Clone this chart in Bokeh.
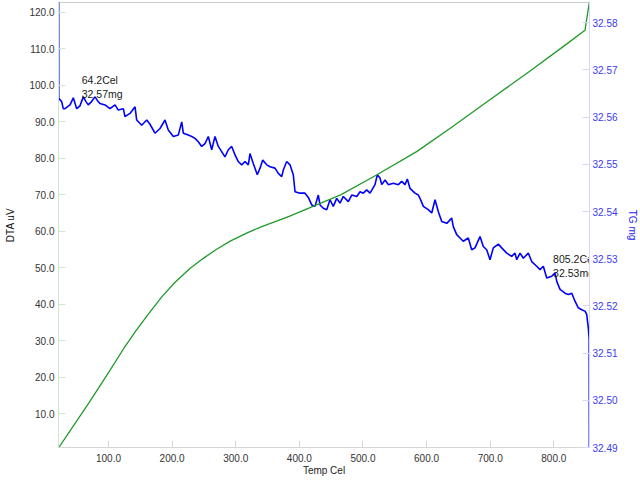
from bokeh.plotting import figure
from bokeh.models import Range1d, LinearAxis, FixedTicker, NumeralTickFormatter, ColumnDataSource
from bokeh.core.properties import value
from bokeh.embed import file_html
from bokeh.resources import INLINE

# ---- data ----
dta_temp = [21.6, 70, 100, 124, 143, 162, 185, 205.5, 228, 249, 270, 292, 318, 341, 384, 428, 465,
            522, 585, 640, 700, 760, 820, 849, 856.5]
dta_uv = [0.7, 13.2, 21.3, 27.9, 32.7, 37.2, 42.3, 46.2, 49.8, 52.6, 55.1, 57.4, 59.6, 61.3, 64.1,
          67.3, 70.0, 75.5, 81.9, 88.6, 96.1, 103.6, 111.3, 115.1, 123.5]

tg_temp = [21.6, 21.8, 26.4, 28.9, 31.6, 39.5, 44.7, 50.0, 55.2, 60.4,
           64.6, 68.2, 73.3, 78.8, 82.7, 86.6, 94.5, 102.4, 110.2, 115.4,
           123.3, 125.9, 133.8, 141.7, 144.3, 152.2, 160.1, 165.2, 173.1, 181.0,
           188.8, 194.0, 201.9, 209.7, 215.1, 217.6, 225.4, 230.8, 236.0, 241.2,
           246.5, 251.7, 256.9, 262.2, 267.4, 272.6, 277.9, 283.1, 288.3, 293.7,
           298.9, 304.0, 309.4, 314.6, 319.8, 322.4, 327.6, 333.9, 338.2, 342.4,
           348.7, 353.9, 361.7, 366.9, 372.3, 374.8, 380.1, 385.3, 390.5, 393.2,
           401.0, 408.9, 414.1, 419.5, 424.6, 429.8, 432.5, 437.7, 443.0, 448.2,
           453.4, 458.7, 463.9, 469.1, 477.0, 482.3, 490.2, 495.4, 500.5, 505.9,
           511.1, 518.9, 522.6, 526.8, 529.5, 534.7, 539.9, 547.7, 555.6, 560.9,
           566.1, 569.7, 574.0, 581.8, 587.0, 589.7, 594.9, 602.7, 608.1, 613.3,
           618.4, 623.8, 631.7, 639.5, 642.0, 647.4, 652.6, 657.7, 665.6, 670.9,
           676.1, 684.0, 689.2, 694.5, 699.7, 704.9, 712.8, 718.1, 726.0, 733.8,
           739.0, 741.7, 746.9, 752.1, 759.9, 765.3, 773.1, 778.3, 783.5, 788.9,
           796.7, 801.9, 804.6, 809.8, 817.6, 822.8, 828.2, 833.3, 838.5, 843.9,
           849.0, 851.7, 854.2, 855.6, 855.9]
tg_mg = [32.595, 32.5640, 32.5633, 32.5618, 32.5618, 32.5626, 32.5641, 32.5618, 32.5624, 32.5643,
         32.5633, 32.5626, 32.5633, 32.5643, 32.5635, 32.5629, 32.5626, 32.5618, 32.5626, 32.5615,
         32.5618, 32.5601, 32.5608, 32.5622, 32.5594, 32.5583, 32.5594, 32.5585, 32.5566, 32.5576,
         32.5594, 32.5573, 32.5559, 32.5562, 32.5590, 32.5566, 32.5562, 32.5559, 32.5555, 32.5548,
         32.5538, 32.5544, 32.5559, 32.5531, 32.5559, 32.5538, 32.5527, 32.5516, 32.5531, 32.5538,
         32.5520, 32.5506, 32.5499, 32.5506, 32.5499, 32.5523, 32.5502, 32.5478, 32.5492, 32.5509,
         32.5499, 32.5495, 32.5492, 32.5481, 32.5474, 32.5488, 32.5506, 32.5499, 32.5478, 32.5442,
         32.5439, 32.5439, 32.5430, 32.5414, 32.5411, 32.5435, 32.5414, 32.5407, 32.5404, 32.5425,
         32.5411, 32.5428, 32.5418, 32.5432, 32.5421, 32.5435, 32.5432, 32.5442, 32.5439, 32.5446,
         32.5439, 32.5457, 32.5478, 32.5471, 32.5457, 32.5467, 32.5457, 32.5460, 32.5457, 32.5464,
         32.5457, 32.5469, 32.5449, 32.5439, 32.5435, 32.5428, 32.5411, 32.5404, 32.5397, 32.5425,
         32.5400, 32.5379, 32.5375, 32.5386, 32.5368, 32.5351, 32.5344, 32.5337, 32.5344, 32.5319,
         32.5323, 32.5347, 32.5326, 32.5319, 32.5298, 32.5323, 32.5331, 32.5323, 32.5312, 32.5305,
         32.5312, 32.5298, 32.5312, 32.5301, 32.5312, 32.5294, 32.5284, 32.5277, 32.5284, 32.5259,
         32.5263, 32.5270, 32.5252, 32.5235, 32.5227, 32.5224, 32.5227, 32.5210, 32.5196, 32.5192,
         32.5189, 32.5182, 32.5154, 32.5130, 32.4880]

# annotation: marked temperature, TG at that point on the curve, and the printed text
ann_temp = [64.2, 805.2]
ann_point_mg = [32.5634, 32.5255]
ann_text = ["64.2Cel\n32.57mg", "805.2Cel\n32.53mg"]

temp_ticks = [100, 200, 300, 400, 500, 600, 700, 800]
dta_ticks = [10, 20, 30, 40, 50, 60, 70, 80, 90, 100, 110, 120]
tg_ticks = [32.49, 32.50, 32.51, 32.52, 32.53, 32.54, 32.55, 32.56, 32.57, 32.58]

# ---- figure ----
p = figure(width=640, height=482, output_backend="svg", toolbar_location=None,
           x_range=Range1d(21.4, 856.1), y_range=Range1d(0.77, 122.7),
           min_border_left=58, min_border_right=51, min_border_top=2, min_border_bottom=35,
           background_fill_color="white", border_fill_color="white")
p.extra_y_ranges = {"tg": Range1d(32.49, 32.5843)}
p.xgrid.visible = False
p.ygrid.visible = False
p.outline_line_color = "#cfcfcf"

FONT = "Liberation Sans"

def style_axis(ax, line_color, label_color, text_color):
    ax.axis_line_color = line_color
    ax.major_tick_line_color = line_color
    ax.minor_tick_line_color = None
    ax.major_tick_in = 7
    ax.major_tick_out = 0
    ax.major_label_text_font = FONT
    ax.major_label_text_font_size = "10px"
    ax.major_label_text_color = text_color
    ax.axis_label_text_font = FONT
    ax.axis_label_text_font_size = "10px"
    ax.axis_label_text_font_style = "normal"
    ax.axis_label_text_color = label_color

xa = p.xaxis[0]
style_axis(xa, "#d6d6d6", "#222222", "#333333")
xa.ticker = FixedTicker(ticks=temp_ticks)
xa.formatter = NumeralTickFormatter(format="0.0")
xa.axis_label = "Temp Cel"
xa.major_label_standoff = 6
xa.axis_label_standoff = 0

ya = p.yaxis[0]
style_axis(ya, "#cde8cd", "#111111", "#333333")
ya.ticker = FixedTicker(ticks=dta_ticks)
ya.formatter = NumeralTickFormatter(format="0.0")
ya.axis_label = "DTA uV"
ya.major_label_standoff = 4
ya.axis_label_standoff = 10

ra = LinearAxis(y_range_name="tg")
style_axis(ra, "#d6d6f6", "#2222ee", "#3a3aee")
ra.ticker = FixedTicker(ticks=tg_ticks)
ra.formatter = NumeralTickFormatter(format="0.00")
ra.axis_label = "TG mg"
ra.major_label_standoff = 3
ra.axis_label_standoff = 6
p.add_layout(ra, "right")

tg_src = ColumnDataSource(dict(t=tg_temp, m=tg_mg))
dta_src = ColumnDataSource(dict(t=dta_temp, v=dta_uv))
ann_src = ColumnDataSource(dict(t=ann_temp, m=ann_point_mg, s=ann_text))

p.line("t", "m", source=tg_src, y_range_name="tg", line_color="#0000ff", line_width=1.6)
p.line("t", "v", source=dta_src, line_color="#1f9a2a", line_width=1.3)

p.text("t", "m", text="s", source=ann_src, y_range_name="tg",
       x_offset=-4, y_offset=-1, text_align="left", text_baseline="bottom",
       text_font=value(FONT), text_font_size="10.5px", text_color="#1a1a1a",
       text_line_height=1.2)

open("out.html", "w").write(file_html(p, INLINE))
